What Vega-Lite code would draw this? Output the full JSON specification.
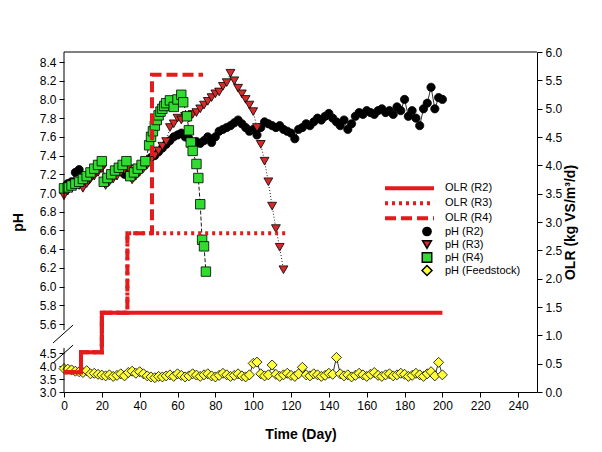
{
"$schema": "https://vega.github.io/schema/vega-lite/v6.json",
"width": 473, "height": 340,
"autosize": {"type": "none"},
"padding": {"left": 64, "top": 52, "right": 65, "bottom": 60},
"background": "white",
"config": {
  "view": {"stroke": null},
  "font": "Liberation Sans",
  "axis": {"grid": false, "labelFont": "Liberation Sans", "titleFont": "Liberation Sans", "labelColor": "black", "titleColor": "black", "tickColor": "black", "domainColor": "black", "labelFontSize": 12, "titleFontSize": 14, "titleFontWeight": "bold", "tickSize": 5, "labelOverlap": false, "labelFlush": false},
  "legend": {"labelFont": "Liberation Sans", "labelFontSize": 11, "labelColor": "black", "padding": 0}
},
"datasets": {
"ph": [
{"series":"pH (R2)","day":0,"pH":7.05},{"series":"pH (R2)","day":2,"pH":7.1},{"series":"pH (R2)","day":4,"pH":7.12},{"series":"pH (R2)","day":6,"pH":7.22},{"series":"pH (R2)","day":8,"pH":7.25},{"series":"pH (R2)","day":10,"pH":7.15},{"series":"pH (R2)","day":12,"pH":7.13},{"series":"pH (R2)","day":14,"pH":7.18},{"series":"pH (R2)","day":16,"pH":7.22},{"series":"pH (R2)","day":18,"pH":7.26},{"series":"pH (R2)","day":20,"pH":7.3},{"series":"pH (R2)","day":22,"pH":7.14},{"series":"pH (R2)","day":24,"pH":7.18},{"series":"pH (R2)","day":26,"pH":7.2},{"series":"pH (R2)","day":28,"pH":7.22},{"series":"pH (R2)","day":30,"pH":7.24},{"series":"pH (R2)","day":32,"pH":7.2},{"series":"pH (R2)","day":34,"pH":7.22},{"series":"pH (R2)","day":36,"pH":7.18},{"series":"pH (R2)","day":38,"pH":7.24},{"series":"pH (R2)","day":40,"pH":7.28},{"series":"pH (R2)","day":42,"pH":7.3},{"series":"pH (R2)","day":44,"pH":7.33},{"series":"pH (R2)","day":46,"pH":7.38},{"series":"pH (R2)","day":48,"pH":7.4},{"series":"pH (R2)","day":50,"pH":7.44},{"series":"pH (R2)","day":52,"pH":7.48},{"series":"pH (R2)","day":54,"pH":7.52},{"series":"pH (R2)","day":56,"pH":7.56},{"series":"pH (R2)","day":58,"pH":7.6},{"series":"pH (R2)","day":60,"pH":7.62},{"series":"pH (R2)","day":62,"pH":7.64},{"series":"pH (R2)","day":64,"pH":7.6},{"series":"pH (R2)","day":66,"pH":7.58},{"series":"pH (R2)","day":68,"pH":7.54},{"series":"pH (R2)","day":70,"pH":7.55},{"series":"pH (R2)","day":72,"pH":7.53},{"series":"pH (R2)","day":74,"pH":7.56},{"series":"pH (R2)","day":76,"pH":7.6},{"series":"pH (R2)","day":78,"pH":7.54},{"series":"pH (R2)","day":80,"pH":7.6},{"series":"pH (R2)","day":82,"pH":7.66},{"series":"pH (R2)","day":84,"pH":7.68},{"series":"pH (R2)","day":86,"pH":7.7},{"series":"pH (R2)","day":88,"pH":7.72},{"series":"pH (R2)","day":90,"pH":7.75},{"series":"pH (R2)","day":92,"pH":7.78},{"series":"pH (R2)","day":94,"pH":7.74},{"series":"pH (R2)","day":96,"pH":7.7},{"series":"pH (R2)","day":98,"pH":7.66},{"series":"pH (R2)","day":100,"pH":7.68},{"series":"pH (R2)","day":102,"pH":7.62},{"series":"pH (R2)","day":104,"pH":7.7},{"series":"pH (R2)","day":106,"pH":7.76},{"series":"pH (R2)","day":108,"pH":7.74},{"series":"pH (R2)","day":110,"pH":7.72},{"series":"pH (R2)","day":112,"pH":7.7},{"series":"pH (R2)","day":114,"pH":7.72},{"series":"pH (R2)","day":116,"pH":7.68},{"series":"pH (R2)","day":118,"pH":7.66},{"series":"pH (R2)","day":120,"pH":7.64},{"series":"pH (R2)","day":122,"pH":7.58},{"series":"pH (R2)","day":124,"pH":7.68},{"series":"pH (R2)","day":126,"pH":7.7},{"series":"pH (R2)","day":128,"pH":7.74},{"series":"pH (R2)","day":130,"pH":7.72},{"series":"pH (R2)","day":132,"pH":7.76},{"series":"pH (R2)","day":134,"pH":7.8},{"series":"pH (R2)","day":136,"pH":7.78},{"series":"pH (R2)","day":138,"pH":7.82},{"series":"pH (R2)","day":140,"pH":7.85},{"series":"pH (R2)","day":142,"pH":7.8},{"series":"pH (R2)","day":144,"pH":7.76},{"series":"pH (R2)","day":146,"pH":7.72},{"series":"pH (R2)","day":148,"pH":7.78},{"series":"pH (R2)","day":150,"pH":7.68},{"series":"pH (R2)","day":152,"pH":7.74},{"series":"pH (R2)","day":154,"pH":7.82},{"series":"pH (R2)","day":156,"pH":7.86},{"series":"pH (R2)","day":158,"pH":7.84},{"series":"pH (R2)","day":160,"pH":7.88},{"series":"pH (R2)","day":162,"pH":7.86},{"series":"pH (R2)","day":164,"pH":7.84},{"series":"pH (R2)","day":166,"pH":7.88},{"series":"pH (R2)","day":168,"pH":7.9},{"series":"pH (R2)","day":170,"pH":7.86},{"series":"pH (R2)","day":172,"pH":7.88},{"series":"pH (R2)","day":174,"pH":7.84},{"series":"pH (R2)","day":176,"pH":7.92},{"series":"pH (R2)","day":178,"pH":7.88},{"series":"pH (R2)","day":180,"pH":8.0},{"series":"pH (R2)","day":182,"pH":7.82},{"series":"pH (R2)","day":184,"pH":7.88},{"series":"pH (R2)","day":186,"pH":7.8},{"series":"pH (R2)","day":188,"pH":7.72},{"series":"pH (R2)","day":190,"pH":7.9},{"series":"pH (R2)","day":192,"pH":7.96},{"series":"pH (R2)","day":194,"pH":8.13},{"series":"pH (R2)","day":196,"pH":7.9},{"series":"pH (R2)","day":198,"pH":8.02},{"series":"pH (R2)","day":200,"pH":8.0},
{"series":"pH (R3)","day":0,"pH":6.97},{"series":"pH (R3)","day":2,"pH":7.02},{"series":"pH (R3)","day":4,"pH":7.05},{"series":"pH (R3)","day":6,"pH":7.1},{"series":"pH (R3)","day":8,"pH":7.08},{"series":"pH (R3)","day":10,"pH":7.05},{"series":"pH (R3)","day":12,"pH":7.1},{"series":"pH (R3)","day":14,"pH":7.15},{"series":"pH (R3)","day":16,"pH":7.18},{"series":"pH (R3)","day":18,"pH":7.22},{"series":"pH (R3)","day":20,"pH":7.26},{"series":"pH (R3)","day":22,"pH":7.08},{"series":"pH (R3)","day":24,"pH":7.12},{"series":"pH (R3)","day":26,"pH":7.15},{"series":"pH (R3)","day":28,"pH":7.18},{"series":"pH (R3)","day":30,"pH":7.22},{"series":"pH (R3)","day":32,"pH":7.25},{"series":"pH (R3)","day":34,"pH":7.26},{"series":"pH (R3)","day":36,"pH":7.14},{"series":"pH (R3)","day":38,"pH":7.18},{"series":"pH (R3)","day":40,"pH":7.22},{"series":"pH (R3)","day":42,"pH":7.26},{"series":"pH (R3)","day":44,"pH":7.3},{"series":"pH (R3)","day":46,"pH":7.35},{"series":"pH (R3)","day":48,"pH":7.4},{"series":"pH (R3)","day":50,"pH":7.45},{"series":"pH (R3)","day":52,"pH":7.5},{"series":"pH (R3)","day":54,"pH":7.55},{"series":"pH (R3)","day":56,"pH":7.7},{"series":"pH (R3)","day":58,"pH":7.74},{"series":"pH (R3)","day":60,"pH":7.8},{"series":"pH (R3)","day":62,"pH":7.78},{"series":"pH (R3)","day":64,"pH":7.82},{"series":"pH (R3)","day":66,"pH":7.8},{"series":"pH (R3)","day":68,"pH":7.84},{"series":"pH (R3)","day":70,"pH":7.86},{"series":"pH (R3)","day":72,"pH":7.9},{"series":"pH (R3)","day":74,"pH":7.94},{"series":"pH (R3)","day":76,"pH":7.98},{"series":"pH (R3)","day":78,"pH":8.02},{"series":"pH (R3)","day":80,"pH":8.06},{"series":"pH (R3)","day":82,"pH":8.08},{"series":"pH (R3)","day":84,"pH":8.14},{"series":"pH (R3)","day":86,"pH":8.18},{"series":"pH (R3)","day":88,"pH":8.28},{"series":"pH (R3)","day":90,"pH":8.2},{"series":"pH (R3)","day":92,"pH":8.12},{"series":"pH (R3)","day":94,"pH":8.06},{"series":"pH (R3)","day":96,"pH":8.0},{"series":"pH (R3)","day":98,"pH":7.94},{"series":"pH (R3)","day":100,"pH":7.87},{"series":"pH (R3)","day":102,"pH":7.7},{"series":"pH (R3)","day":104,"pH":7.52},{"series":"pH (R3)","day":106,"pH":7.34},{"series":"pH (R3)","day":108,"pH":7.12},{"series":"pH (R3)","day":110,"pH":6.86},{"series":"pH (R3)","day":112,"pH":6.62},{"series":"pH (R3)","day":114,"pH":6.42},{"series":"pH (R3)","day":116,"pH":6.18},
{"series":"pH (R4)","day":0,"pH":7.05},{"series":"pH (R4)","day":2,"pH":7.06},{"series":"pH (R4)","day":4,"pH":7.08},{"series":"pH (R4)","day":6,"pH":7.1},{"series":"pH (R4)","day":8,"pH":7.12},{"series":"pH (R4)","day":10,"pH":7.15},{"series":"pH (R4)","day":12,"pH":7.18},{"series":"pH (R4)","day":14,"pH":7.22},{"series":"pH (R4)","day":16,"pH":7.26},{"series":"pH (R4)","day":18,"pH":7.3},{"series":"pH (R4)","day":20,"pH":7.34},{"series":"pH (R4)","day":21,"pH":7.12},{"series":"pH (R4)","day":23,"pH":7.16},{"series":"pH (R4)","day":25,"pH":7.2},{"series":"pH (R4)","day":27,"pH":7.24},{"series":"pH (R4)","day":29,"pH":7.27},{"series":"pH (R4)","day":31,"pH":7.3},{"series":"pH (R4)","day":33,"pH":7.34},{"series":"pH (R4)","day":35,"pH":7.18},{"series":"pH (R4)","day":37,"pH":7.22},{"series":"pH (R4)","day":39,"pH":7.26},{"series":"pH (R4)","day":41,"pH":7.3},{"series":"pH (R4)","day":43,"pH":7.34},{"series":"pH (R4)","day":45,"pH":7.51},{"series":"pH (R4)","day":46,"pH":7.6},{"series":"pH (R4)","day":47,"pH":7.66},{"series":"pH (R4)","day":48,"pH":7.72},{"series":"pH (R4)","day":49,"pH":7.78},{"series":"pH (R4)","day":50,"pH":7.83},{"series":"pH (R4)","day":51,"pH":7.87},{"series":"pH (R4)","day":52,"pH":7.9},{"series":"pH (R4)","day":53,"pH":7.93},{"series":"pH (R4)","day":54,"pH":7.96},{"series":"pH (R4)","day":56,"pH":7.99},{"series":"pH (R4)","day":58,"pH":7.92},{"series":"pH (R4)","day":60,"pH":8.0},{"series":"pH (R4)","day":62,"pH":8.05},{"series":"pH (R4)","day":63,"pH":7.97},{"series":"pH (R4)","day":65,"pH":7.82},{"series":"pH (R4)","day":66,"pH":7.67},{"series":"pH (R4)","day":67,"pH":7.54},{"series":"pH (R4)","day":68,"pH":7.45},{"series":"pH (R4)","day":70,"pH":7.31},{"series":"pH (R4)","day":71,"pH":7.16},{"series":"pH (R4)","day":72,"pH":6.88},{"series":"pH (R4)","day":73,"pH":6.5},{"series":"pH (R4)","day":74,"pH":6.43},{"series":"pH (R4)","day":75,"pH":6.16},
{"series":"pH (Feedstock)","day":0,"pH":3.9},{"series":"pH (Feedstock)","day":2,"pH":3.88},{"series":"pH (Feedstock)","day":4,"pH":3.85},{"series":"pH (Feedstock)","day":6,"pH":3.8},{"series":"pH (Feedstock)","day":8,"pH":3.78},{"series":"pH (Feedstock)","day":10,"pH":3.75},{"series":"pH (Feedstock)","day":12,"pH":3.82},{"series":"pH (Feedstock)","day":14,"pH":3.7},{"series":"pH (Feedstock)","day":16,"pH":3.72},{"series":"pH (Feedstock)","day":18,"pH":3.68},{"series":"pH (Feedstock)","day":20,"pH":3.65},{"series":"pH (Feedstock)","day":22,"pH":3.62},{"series":"pH (Feedstock)","day":24,"pH":3.66},{"series":"pH (Feedstock)","day":26,"pH":3.6},{"series":"pH (Feedstock)","day":28,"pH":3.64},{"series":"pH (Feedstock)","day":30,"pH":3.7},{"series":"pH (Feedstock)","day":32,"pH":3.62},{"series":"pH (Feedstock)","day":34,"pH":3.75},{"series":"pH (Feedstock)","day":36,"pH":3.8},{"series":"pH (Feedstock)","day":38,"pH":3.72},{"series":"pH (Feedstock)","day":40,"pH":3.78},{"series":"pH (Feedstock)","day":42,"pH":3.7},{"series":"pH (Feedstock)","day":44,"pH":3.62},{"series":"pH (Feedstock)","day":46,"pH":3.58},{"series":"pH (Feedstock)","day":48,"pH":3.55},{"series":"pH (Feedstock)","day":50,"pH":3.6},{"series":"pH (Feedstock)","day":52,"pH":3.58},{"series":"pH (Feedstock)","day":54,"pH":3.62},{"series":"pH (Feedstock)","day":56,"pH":3.66},{"series":"pH (Feedstock)","day":58,"pH":3.6},{"series":"pH (Feedstock)","day":60,"pH":3.7},{"series":"pH (Feedstock)","day":62,"pH":3.64},{"series":"pH (Feedstock)","day":64,"pH":3.58},{"series":"pH (Feedstock)","day":66,"pH":3.62},{"series":"pH (Feedstock)","day":68,"pH":3.7},{"series":"pH (Feedstock)","day":70,"pH":3.65},{"series":"pH (Feedstock)","day":72,"pH":3.6},{"series":"pH (Feedstock)","day":74,"pH":3.66},{"series":"pH (Feedstock)","day":76,"pH":3.7},{"series":"pH (Feedstock)","day":78,"pH":3.62},{"series":"pH (Feedstock)","day":80,"pH":3.58},{"series":"pH (Feedstock)","day":82,"pH":3.64},{"series":"pH (Feedstock)","day":84,"pH":3.72},{"series":"pH (Feedstock)","day":86,"pH":3.66},{"series":"pH (Feedstock)","day":88,"pH":3.6},{"series":"pH (Feedstock)","day":90,"pH":3.64},{"series":"pH (Feedstock)","day":92,"pH":3.7},{"series":"pH (Feedstock)","day":94,"pH":3.62},{"series":"pH (Feedstock)","day":96,"pH":3.58},{"series":"pH (Feedstock)","day":98,"pH":3.66},{"series":"pH (Feedstock)","day":100,"pH":4.1},{"series":"pH (Feedstock)","day":102,"pH":4.15},{"series":"pH (Feedstock)","day":104,"pH":3.7},{"series":"pH (Feedstock)","day":106,"pH":3.62},{"series":"pH (Feedstock)","day":108,"pH":3.66},{"series":"pH (Feedstock)","day":110,"pH":4.04},{"series":"pH (Feedstock)","day":112,"pH":3.68},{"series":"pH (Feedstock)","day":114,"pH":3.6},{"series":"pH (Feedstock)","day":116,"pH":3.66},{"series":"pH (Feedstock)","day":118,"pH":3.72},{"series":"pH (Feedstock)","day":120,"pH":3.64},{"series":"pH (Feedstock)","day":122,"pH":3.6},{"series":"pH (Feedstock)","day":124,"pH":3.7},{"series":"pH (Feedstock)","day":126,"pH":3.95},{"series":"pH (Feedstock)","day":128,"pH":3.66},{"series":"pH (Feedstock)","day":130,"pH":3.62},{"series":"pH (Feedstock)","day":132,"pH":3.7},{"series":"pH (Feedstock)","day":134,"pH":3.66},{"series":"pH (Feedstock)","day":136,"pH":3.6},{"series":"pH (Feedstock)","day":138,"pH":3.64},{"series":"pH (Feedstock)","day":140,"pH":3.72},{"series":"pH (Feedstock)","day":142,"pH":3.68},{"series":"pH (Feedstock)","day":144,"pH":4.33},{"series":"pH (Feedstock)","day":146,"pH":3.7},{"series":"pH (Feedstock)","day":148,"pH":3.62},{"series":"pH (Feedstock)","day":150,"pH":3.66},{"series":"pH (Feedstock)","day":152,"pH":3.58},{"series":"pH (Feedstock)","day":154,"pH":3.64},{"series":"pH (Feedstock)","day":156,"pH":3.72},{"series":"pH (Feedstock)","day":158,"pH":3.66},{"series":"pH (Feedstock)","day":160,"pH":3.6},{"series":"pH (Feedstock)","day":162,"pH":3.68},{"series":"pH (Feedstock)","day":164,"pH":3.75},{"series":"pH (Feedstock)","day":166,"pH":3.64},{"series":"pH (Feedstock)","day":168,"pH":3.6},{"series":"pH (Feedstock)","day":170,"pH":3.66},{"series":"pH (Feedstock)","day":172,"pH":3.7},{"series":"pH (Feedstock)","day":174,"pH":3.62},{"series":"pH (Feedstock)","day":176,"pH":3.66},{"series":"pH (Feedstock)","day":178,"pH":3.72},{"series":"pH (Feedstock)","day":180,"pH":3.68},{"series":"pH (Feedstock)","day":182,"pH":3.6},{"series":"pH (Feedstock)","day":184,"pH":3.64},{"series":"pH (Feedstock)","day":186,"pH":3.72},{"series":"pH (Feedstock)","day":188,"pH":3.66},{"series":"pH (Feedstock)","day":190,"pH":3.6},{"series":"pH (Feedstock)","day":192,"pH":3.7},{"series":"pH (Feedstock)","day":194,"pH":3.78},{"series":"pH (Feedstock)","day":196,"pH":3.62},{"series":"pH (Feedstock)","day":198,"pH":4.14},{"series":"pH (Feedstock)","day":200,"pH":3.66}
],
"olr": [
{"series":"OLR (R2)","day":0,"OLR":0.35},{"series":"OLR (R2)","day":9,"OLR":0.7},{"series":"OLR (R2)","day":20,"OLR":1.4},{"series":"OLR (R2)","day":200,"OLR":1.4},
{"series":"OLR (R3)","day":0,"OLR":0.35},{"series":"OLR (R3)","day":9,"OLR":0.7},{"series":"OLR (R3)","day":20,"OLR":1.4},{"series":"OLR (R3)","day":33.5,"OLR":2.8},{"series":"OLR (R3)","day":117,"OLR":2.8},
{"series":"OLR (R4)","day":0,"OLR":0.35},{"series":"OLR (R4)","day":9,"OLR":0.7},{"series":"OLR (R4)","day":20,"OLR":1.4},{"series":"OLR (R4)","day":33.5,"OLR":2.8},{"series":"OLR (R4)","day":46.5,"OLR":5.6},{"series":"OLR (R4)","day":73.5,"OLR":5.6}
]
},
"layer": [
{
  "encoding": {
    "x": {"type": "quantitative", "scale": {"domain": [0, 250], "nice": false}, "axis": {"values": [0,20,40,60,80,100,120,140,160,180,200,220,240], "title": "Time (Day)", "titlePadding": 16, "labelPadding": 3, "labelOverlap": false}},
    "y": {"type": "quantitative", "scale": {"domain": [3, 4.5, 5.6, 8.507], "range": [340, 301, 272, 0], "nice": false, "zero": false}, "axis": {"values": [3.0,3.5,4.0,4.5,5.6,5.8,6.0,6.2,6.4,6.6,6.8,7.0,7.2,7.4,7.6,7.8,8.0,8.2,8.4], "format": ".1f", "domain": false, "title": "pH", "titlePadding": 14, "labelPadding": 3, "labelOverlap": false}}
  },
  "layer": [
    {"data": {"name": "ph"}, "transform": [{"filter": "datum.series === 'pH (R2)'"}],
     "mark": {"type": "line", "stroke": "black", "strokeWidth": 0.8},
     "encoding": {"x": {"field": "day"}, "y": {"field": "pH"}}},
    {"data": {"name": "ph"}, "transform": [{"filter": "datum.series === 'pH (R3)'"}],
     "mark": {"type": "line", "stroke": "black", "strokeWidth": 0.9, "strokeDash": [1, 2]},
     "encoding": {"x": {"field": "day"}, "y": {"field": "pH"}}},
    {"data": {"name": "ph"}, "transform": [{"filter": "datum.series === 'pH (R4)'"}],
     "mark": {"type": "line", "stroke": "black", "strokeWidth": 0.9, "strokeDash": [4, 2]},
     "encoding": {"x": {"field": "day"}, "y": {"field": "pH"}}},
    {"data": {"name": "ph"}, "transform": [{"filter": "datum.series === 'pH (Feedstock)'"}],
     "mark": {"type": "line", "stroke": "black", "strokeWidth": 0.8},
     "encoding": {"x": {"field": "day"}, "y": {"field": "pH"}}},
    {"data": {"name": "ph"},
     "mark": {"type": "point", "filled": true, "stroke": "black", "strokeWidth": 0.8, "opacity": 1},
     "encoding": {
       "x": {"field": "day"},
       "y": {"field": "pH"},
       "size": {"field": "series", "type": "nominal", "scale": {"domain": ["pH (R2)", "pH (R3)", "pH (R4)", "pH (Feedstock)"], "range": [68, 100, 80, 100]},
         "legend": {"title": null, "orient": "none", "legendX": 357, "legendY": 173, "labelOffset": 12, "clipHeight": 13, "rowPadding": 0, "encode": {"symbols": {"update": {"stroke": {"value": "black"}, "strokeWidth": {"value": 0.7}}}}}},
       "shape": {"field": "series", "type": "nominal", "scale": {"domain": ["pH (R2)", "pH (R3)", "pH (R4)", "pH (Feedstock)"], "range": ["circle", "triangle-down", "square", "diamond"]},
         "legend": {"title": null, "orient": "none", "legendX": 357, "legendY": 173, "labelOffset": 12, "clipHeight": 13, "rowPadding": 0, "encode": {"symbols": {"update": {"stroke": {"value": "black"}, "strokeWidth": {"value": 0.7}}}}}},
       "fill": {"field": "series", "type": "nominal", "scale": {"domain": ["pH (R2)", "pH (R3)", "pH (R4)", "pH (Feedstock)"], "range": ["#000000", "#d42a2a", "#2fdc2f", "#ffff3a"]},
         "legend": {"title": null, "orient": "none", "legendX": 357, "legendY": 173, "labelOffset": 12, "clipHeight": 13, "rowPadding": 0, "encode": {"symbols": {"update": {"stroke": {"value": "black"}, "strokeWidth": {"value": 0.7}}}}}}
     }},
    {"data": {"values": [{}]}, "mark": {"type": "rule", "color": "black", "strokeWidth": 1},
     "encoding": {"x": {"datum": 0}, "y": {"datum": 3.0}, "y2": {"datum": 4.69}}},
    {"data": {"values": [{}]}, "mark": {"type": "rule", "color": "black", "strokeWidth": 1},
     "encoding": {"x": {"datum": 0}, "y": {"datum": 5.37}, "y2": {"datum": 8.507}}},
    {"data": {"values": [{}]}, "mark": {"type": "rule", "color": "black", "strokeWidth": 1},
     "encoding": {"x": {"datum": -5.8}, "x2": {"datum": 4.8}, "y": {"datum": 4.115}, "y2": {"datum": 4.8}}},
    {"data": {"values": [{}]}, "mark": {"type": "rule", "color": "black", "strokeWidth": 1},
     "encoding": {"x": {"datum": -5.8}, "x2": {"datum": 4.8}, "y": {"datum": 4.88}, "y2": {"datum": 5.56}}},
    {"data": {"values": [{}]}, "mark": {"type": "rule", "color": "black", "strokeWidth": 1},
     "encoding": {"x": {"datum": 0}, "x2": {"datum": 250}, "y": {"datum": 8.507}}}
  ]
},
{
  "data": {"name": "olr"},
  "mark": {"type": "line", "interpolate": "step-after", "strokeWidth": 4, "color": "#e41a1c"},
  "encoding": {
    "x": {"field": "day", "type": "quantitative", "scale": {"domain": [0, 250], "nice": false}, "axis": {"values": [0,20,40,60,80,100,120,140,160,180,200,220,240], "title": "Time (Day)", "titlePadding": 16, "labelPadding": 3, "labelOverlap": false}},
    "y": {"field": "OLR", "type": "quantitative", "scale": {"domain": [0, 6], "nice": false}, "axis": {"orient": "right", "values": [0,0.5,1,1.5,2,2.5,3,3.5,4,4.5,5,5.5,6], "format": ".1f", "title": "OLR (kg VS/m³/d)", "titleAngle": 270, "titlePadding": 16, "labelPadding": 3, "labelOverlap": false}},
    "strokeDash": {"field": "series", "type": "nominal", "scale": {"domain": ["OLR (R2)", "OLR (R3)", "OLR (R4)"], "range": [[1, 0], [3, 4], [11, 5]]},
      "legend": {"title": null, "orient": "none", "legendX": 319, "legendY": 129, "symbolType": "stroke", "symbolSize": 2401, "symbolStrokeColor": "#e41a1c", "symbolStrokeWidth": 4, "labelOffset": 9, "clipHeight": 14.5, "rowPadding": 0}}
  }
}
],
"resolve": {"scale": {"y": "independent"}, "axis": {"y": "independent"}}
}
